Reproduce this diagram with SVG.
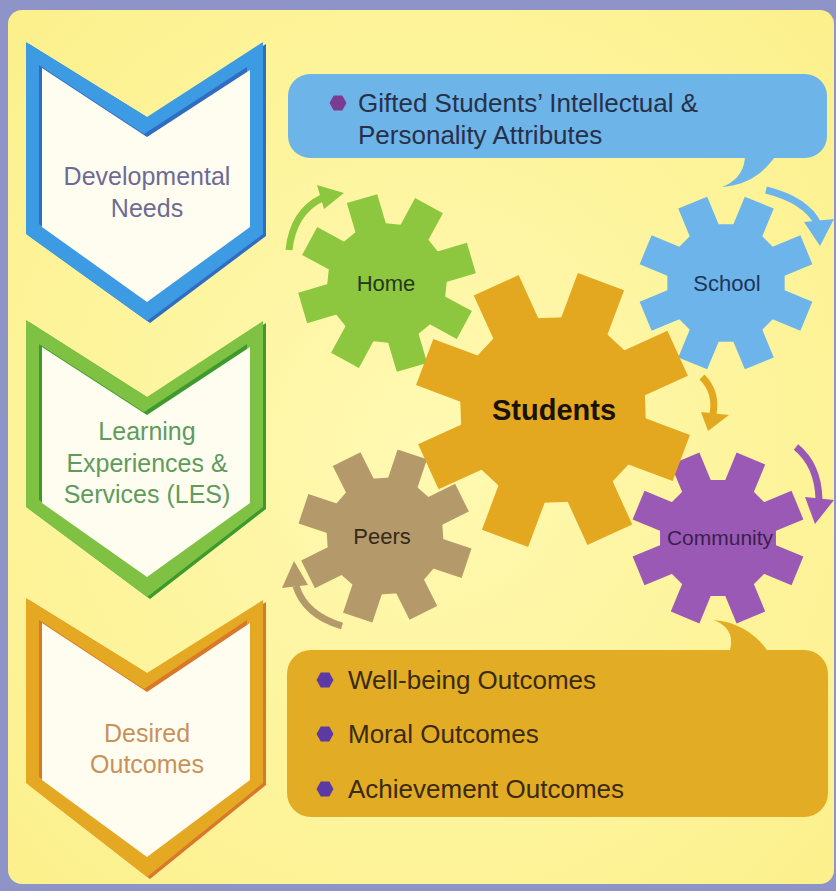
<svg xmlns="http://www.w3.org/2000/svg" width="836" height="891" viewBox="0 0 836 891">
<defs>
<style>
.lbl{font-family:"Liberation Sans",Arial,sans-serif;font-size:25px;text-anchor:middle}
.glbl{font-family:"Liberation Sans",Arial,sans-serif;font-size:22px;text-anchor:middle}
.ctext{font-family:"Liberation Sans",Arial,sans-serif;font-size:26px}
.arc{fill:none;stroke-width:7}
.inner{fill:#fffdf0}
</style>
<radialGradient id="bg" cx="0.5" cy="0.5" r="0.7">
<stop offset="0" stop-color="#fff9b2"/>
<stop offset="1" stop-color="#fcf08c"/>
</radialGradient>
<g id="gear">
<polygon points="27.9,-67.4 67.4,-27.9 67.4,27.9 27.9,67.4 -27.9,67.4 -67.4,27.9 -67.4,-27.9 -27.9,-67.4"/>
<rect x="-18" y="-100" width="36" height="45" transform="rotate(22.5)"/>
<rect x="-18" y="-100" width="36" height="45" transform="rotate(67.5)"/>
<rect x="-18" y="-100" width="36" height="45" transform="rotate(112.5)"/>
<rect x="-18" y="-100" width="36" height="45" transform="rotate(157.5)"/>
<rect x="-18" y="-100" width="36" height="45" transform="rotate(202.5)"/>
<rect x="-18" y="-100" width="36" height="45" transform="rotate(247.5)"/>
<rect x="-18" y="-100" width="36" height="45" transform="rotate(292.5)"/>
<rect x="-18" y="-100" width="36" height="45" transform="rotate(337.5)"/>
</g>
<polygon id="bul" points="8.5,0 4.25,7.4 -4.25,7.4 -8.5,0 -4.25,-7.4 4.25,-7.4"/>
</defs>

<rect x="0" y="0" width="836" height="891" fill="#8e93c8"/>
<rect x="8" y="10" width="826" height="874" rx="14" fill="url(#bg)"/>

<g id="chevron-developmental">
<polygon points="26,42 147,117 263,42 263,234 147,321 26,234" fill="#2f6cc2" transform="translate(3,2)"/>
<polygon points="26,42 147,117 263,42 263,234 147,321 26,234" fill="#3d9be4"/>
<polygon points="42,68 147,137 250,70 250,227 147,302 42,227" fill="#2f6cc2" transform="translate(-3,-3)"/>
<polygon class="inner" points="42,68 147,137 250,70 250,227 147,302 42,227"/>
<text class="lbl" fill="#6d6b96"><tspan x="147" y="185">Developmental</tspan><tspan x="147" y="217">Needs</tspan></text>
</g>

<g id="chevron-les">
<polygon points="26,320 147,397 263,321 263,507 147,597 26,507" fill="#3f9a2e" transform="translate(3,2)"/>
<polygon points="26,320 147,397 263,321 263,507 147,597 26,507" fill="#7fc243"/>
<polygon points="42,347 147,415 250,347 250,503 147,577 42,503" fill="#3f9a2e" transform="translate(-3,-3)"/>
<polygon class="inner" points="42,347 147,415 250,347 250,503 147,577 42,503"/>
<text class="lbl" fill="#5e9b5c"><tspan x="147" y="440">Learning</tspan><tspan x="147" y="472">Experiences &amp;</tspan><tspan x="147" y="503">Services (LES)</tspan></text>
</g>

<g id="chevron-outcomes">
<polygon points="26,598 147,673 263,600 263,783 147,877 26,783" fill="#d9782a" transform="translate(3,2)"/>
<polygon points="26,598 147,673 263,600 263,783 147,877 26,783" fill="#e4a823"/>
<polygon points="42,623 147,692 250,623 250,780 147,857 42,780" fill="#d9782a" transform="translate(-3,-3)"/>
<polygon class="inner" points="42,623 147,692 250,623 250,780 147,857 42,780"/>
<text class="lbl" fill="#c9915a"><tspan x="147" y="742">Desired</tspan><tspan x="147" y="773">Outcomes</tspan></text>
</g>

<g id="callout-attributes">
<rect x="288" y="74" width="539" height="84" rx="22" fill="#6db4e9"/>
<path d="M745 155 C745 172 735 182 722 187 C748 185 765 172 776 155 Z" fill="#6db4e9"/>
<use href="#bul" x="338" y="103" fill="#7a3b93"/>
<text class="ctext" fill="#283048"><tspan x="358" y="112">Gifted Students’ Intellectual &amp;</tspan><tspan x="358" y="144">Personality Attributes</tspan></text>
</g>

<g id="callout-outcomes">
<rect x="287" y="650" width="541" height="167" rx="24" fill="#e2ac24"/>
<path d="M729 653 C735 636 728 625 713 620 C740 622 758 636 769 653 Z" fill="#e2ac24"/>
<use href="#bul" x="325" y="680" fill="#5b3aa6"/>
<use href="#bul" x="325" y="734" fill="#5b3aa6"/>
<use href="#bul" x="325" y="789" fill="#5b3aa6"/>
<text class="ctext" fill="#3a2a10"><tspan x="348" y="689">Well-being Outcomes</tspan><tspan x="348" y="743">Moral Outcomes</tspan><tspan x="348" y="798">Achievement Outcomes</tspan></text>
</g>

<g id="connectors">
<path class="arc" d="M289 250 Q293 212 322 198" stroke="#8dc63f"/>
<polygon points="344,193 317,185 324,209" fill="#8dc63f"/>
<path class="arc" d="M766 190 Q806 200 818 224" stroke="#6cb4ea"/>
<polygon points="820,246 804,222 834,219" fill="#6cb4ea"/>
<path class="arc" d="M702 377 Q717 392 713 414" stroke="#e3a81f"/>
<polygon points="708,431 701,412 729,415" fill="#e3a81f"/>
<path class="arc" d="M796 447 Q818 465 819 499" stroke="#9b59b6"/>
<polygon points="815,524 805,497 834,500" fill="#9b59b6"/>
<path class="arc" d="M342 626 Q305 615 296 586" stroke="#b49a6a"/>
<polygon points="294,561 282,588 308,585" fill="#b49a6a"/>
</g>

<g id="home">
<use href="#gear" fill="#8dc63f" transform="translate(387,283) rotate(6) scale(0.88)"/>
<text class="glbl" x="386" y="291" fill="#27381a">Home</text>
</g>
<g id="school">
<use href="#gear" fill="#6cb4ea" transform="translate(726,283) scale(0.87)"/>
<text class="glbl" x="727" y="291" fill="#1e3656">School</text>
</g>
<g id="peers">
<use href="#gear" fill="#b49a6a" transform="translate(385,536) rotate(-4) scale(0.86)"/>
<text class="glbl" x="382" y="544" fill="#35291a">Peers</text>
</g>
<g id="community">
<use href="#gear" fill="#9b59b6" transform="translate(718,538) scale(0.86)"/>
<text class="glbl" x="720" y="545" fill="#3a1f4e" style="font-size:21px">Community</text>
</g>
<g id="students">
<use href="#gear" fill="#e3a81f" transform="translate(553,410) rotate(-2) scale(1.37)"/>
<text x="554" y="420" fill="#1a1208" style="font-family:'Liberation Sans',Arial,sans-serif;font-size:29px;font-weight:bold;text-anchor:middle">Students</text>
</g>
</svg>
